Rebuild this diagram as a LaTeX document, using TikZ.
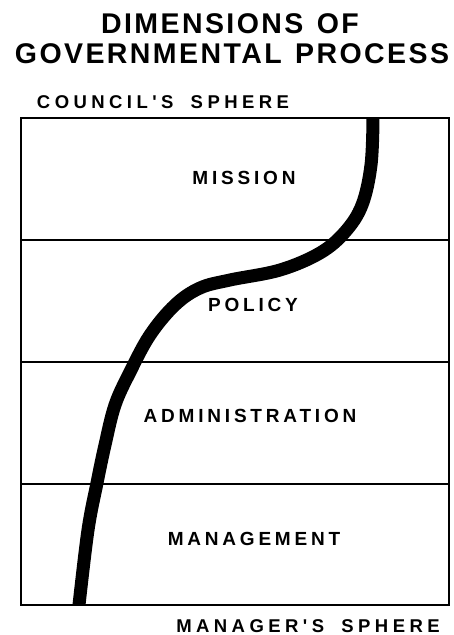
\documentclass[tikz,border=0pt]{standalone}
\usepackage{fontspec}
\newfontfamily\titlefont[LetterSpace=8.5,WordSpace=1.3]{Liberation Sans Bold}
\newfontfamily\spherefont[LetterSpace=24,WordSpace=1.8]{Liberation Sans Bold}
\newfontfamily\labelfont[LetterSpace=20]{Liberation Sans Bold}
\begin{document}
\begin{tikzpicture}[x=1pt,y=-1pt,
  frame/.style={line width=2pt},
  divider/.style={line width=2pt},
  band/.style={line width=13pt,line cap=butt,line join=round},
  title/.style={font=\titlefont\fontsize{28.5}{30}\selectfont,inner sep=0pt,anchor=base},
  sphere/.style={font=\spherefont\fontsize{18.5}{20}\selectfont,inner sep=0pt,anchor=base},
  rowlabel/.style={font=\labelfont\fontsize{19}{20}\selectfont,inner sep=0pt,anchor=base}]
\useasboundingbox (0,0) rectangle (453,635);
% heading
\node[title] (t1) at (230,33) {DIMENSIONS OF};
\node[title] (t2) at (232,63) {GOVERNMENTAL PROCESS};
\node[sphere] (council) at (163,108) {COUNCIL'S SPHERE};
\node[sphere] (manager) at (308,632) {MANAGER'S SPHERE};
% four bands of the process
\draw[frame] (21,118) rectangle (449,605);
\draw[divider] (21,240) -- (449,240);
\draw[divider] (21,362) -- (449,362);
\draw[divider] (21,484) -- (449,484);
\node[rowlabel] (mission) at (244,184) {MISSION};
\node[rowlabel] (policy) at (253,311) {POLICY};
\node[rowlabel] (admin) at (250,422) {ADMINISTRATION};
\node[rowlabel] (mgmt) at (254,545) {MANAGEMENT};
% the shifting boundary between the two spheres
\draw[band] plot[smooth,tension=0.6] coordinates {
  (373,118) (371,165) (362,205) (345,232) (320,253) (280,270)
  (230,280) (200,288) (175,305) (150,335) (130,372) (115,405)
  (105,445) (97,483) (88,530) (79,605)};
\end{tikzpicture}
\end{document}
